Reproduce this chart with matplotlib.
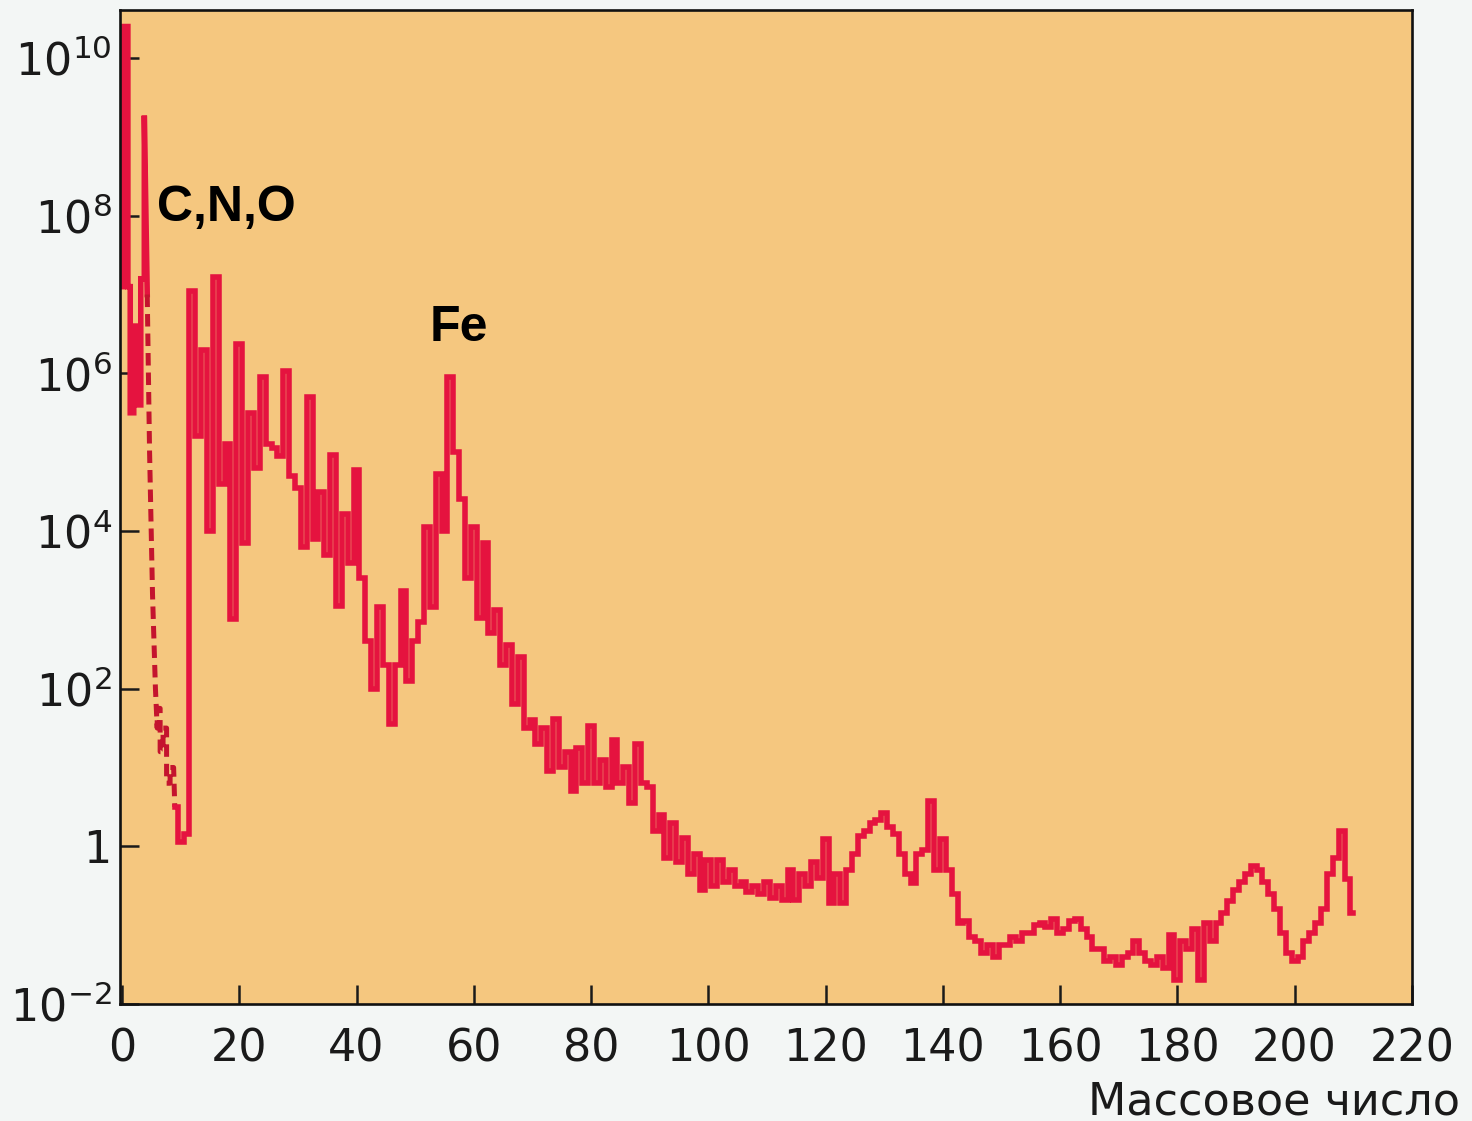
import numpy as np
import matplotlib
matplotlib.use("Agg")
import matplotlib.pyplot as plt

plt.rcParams['font.family'] = ['DejaVu Sans']
plt.rcParams['mathtext.fontset'] = 'dejavusans'

# H / He part at the start (log10 of abundance)
head_mass = [0.2, 0.2, 1.0, 1.0, 1.4, 1.4, 2.0, 2.0, 2.6, 2.6, 3.2, 3.2, 3.8, 3.8, 4.3]
head_log = [7.1, 10.4, 10.4, 7.1, 7.1, 5.5, 5.5, 6.6, 6.6, 5.6, 5.6, 7.2, 7.2, 9.27, 7.0]

# Li, Be, B gap (dashed)
gap_mass = [4.3, 4.7, 5.2, 5.7, 6.0, 6.0, 6.5, 6.5, 7.0, 7.0, 7.6, 7.6, 8.2, 8.2, 8.8, 9.0]
gap_log = [7.0, 5.0, 3.2, 2.0, 1.5, 1.75, 1.75, 1.2, 1.2, 1.5, 1.5, 0.8, 0.8, 1.0, 1.0, 0.5]

# main curve, one value per mass number 9..210
mass = np.arange(9, 211)
log_abund = [
    0.5, 0.05, 0.15, 7.05, 5.2, 6.3, 4.0, 7.22, 4.6, 5.1,
    2.88, 6.37, 3.85, 5.5, 4.8, 5.95, 5.1, 5.05, 4.95, 6.03,
    4.7, 4.55, 3.8, 5.7, 3.9, 4.5, 3.7, 4.97, 3.05, 4.22,
    3.6, 4.77, 3.4, 2.6, 2.0, 3.04, 2.3, 1.55, 2.3, 3.24,
    2.1, 2.6, 2.85, 4.05, 3.04, 4.72, 4.0, 5.95, 5.0, 4.4,
    3.4, 4.05, 2.9, 3.85, 2.7, 3.0, 2.3, 2.55, 1.8, 2.4,
    1.5, 1.6, 1.3, 1.5, 0.95, 1.62, 1.0, 1.2, 0.7, 1.25,
    0.8, 1.53, 0.8, 1.1, 0.75, 1.35, 0.8, 1.0, 0.55, 1.3,
    0.8, 0.75, 0.2, 0.4, -0.15, 0.3, -0.2, 0.1, -0.35, -0.1,
    -0.55, -0.17, -0.5, -0.17, -0.45, -0.3, -0.5, -0.45, -0.58, -0.5,
    -0.6, -0.45, -0.65, -0.5, -0.68, -0.3, -0.68, -0.35, -0.5, -0.2,
    -0.4, 0.09, -0.72, -0.35, -0.72, -0.3, -0.1, 0.13, 0.2, 0.3,
    0.33, 0.42, 0.25, 0.15, -0.1, -0.35, -0.47, -0.1, -0.05, 0.57,
    -0.3, 0.09, -0.3, -0.6, -0.97, -0.95, -1.15, -1.2, -1.35, -1.25,
    -1.4, -1.25, -1.25, -1.15, -1.2, -1.1, -1.1, -1.0, -0.97, -1.02,
    -0.92, -1.1, -1.05, -0.95, -0.92, -1.05, -1.15, -1.3, -1.3, -1.45,
    -1.4, -1.5, -1.4, -1.35, -1.2, -1.35, -1.45, -1.5, -1.4, -1.55,
    -1.12, -1.69, -1.2, -1.3, -1.05, -1.69, -0.97, -1.2, -0.97, -0.85,
    -0.7, -0.55, -0.45, -0.35, -0.25, -0.3, -0.45, -0.6, -0.8, -1.1,
    -1.35, -1.45, -1.4, -1.2, -1.1, -0.97, -0.8, -0.35, -0.15, 0.19,
    -0.42, -0.85,
]

x_ticks = [0, 20, 40, 60, 80, 100, 120, 140, 160, 180, 200, 220]
y_ticks = [1e-2, 1, 1e2, 1e4, 1e6, 1e8, 1e10]
y_labels = [r'$\mathregular{10^{-2}}$', '1', r'$\mathregular{10^{2}}$', r'$\mathregular{10^{4}}$',
            r'$\mathregular{10^{6}}$', r'$\mathregular{10^{8}}$', r'$\mathregular{10^{10}}$']

red = '#E5133F'
dark_red = '#C4142E'

fig = plt.figure(figsize=(14.72, 11.21), dpi=100, facecolor='#F3F6F5')
ax = fig.add_axes([0.0815, 0.1044, 0.8777, 0.8867])
ax.set_facecolor('#F5C77F')

ax.plot(head_mass, 10 ** np.array(head_log), color=red, lw=4.0, solid_joinstyle='miter')
ax.plot(gap_mass, 10 ** np.array(gap_log), color=dark_red, lw=3.6, linestyle=(0, (2.5, 1.4)))
ax.plot(mass, 10 ** np.array(log_abund), color=red, lw=4.0, drawstyle='steps-mid',
        solid_joinstyle='miter')

ax.set_yscale('log')
ax.set_xlim(-0.35, 220)
ax.set_ylim(1e-2, 10 ** 10.61)

ax.set_xticks(x_ticks)
ax.set_xticklabels([str(t) for t in x_ticks])
ax.set_yticks(y_ticks)
ax.set_yticklabels(y_labels)
ax.minorticks_off()
ax.tick_params(direction='in', length=14, width=1.8, labelsize=32, colors='#1a1a1a',
               top=False, right=False)
ax.tick_params(axis='y', pad=6)
ax.tick_params(axis='x', pad=17)
for sp in ax.spines.values():
    sp.set_linewidth(1.9)
    sp.set_color('#111111')

ax.text(6.0, 10 ** 8.1, 'C,N,O', fontsize=36, fontweight='bold', ha='left', va='center',
        family='Liberation Sans')
ax.text(52.5, 10 ** 6.58, 'Fe', fontsize=36, fontweight='bold', ha='left', va='center',
        family='Liberation Sans')

fig.text(0.992, 0.006, 'Массовое число', fontsize=32, color='#1a1a1a', ha='right', va='baseline')

fig.savefig('out.png', dpi=100, facecolor=fig.get_facecolor())
